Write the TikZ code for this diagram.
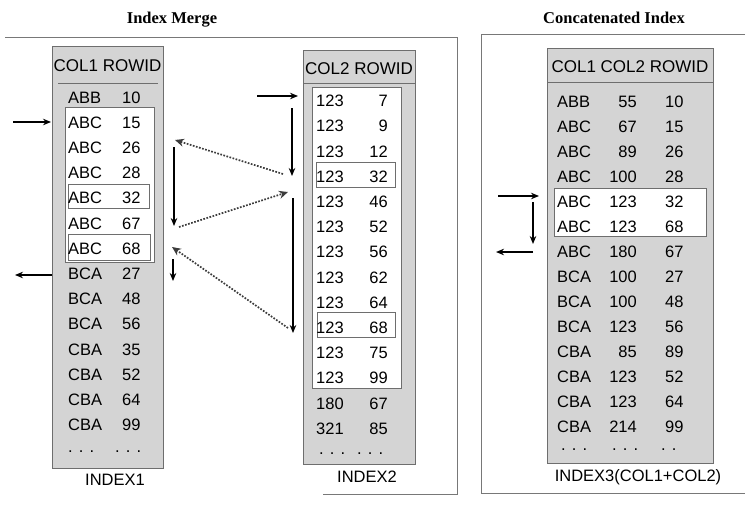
\documentclass[tikz,border=0pt]{standalone}
\usepackage{fontspec}
\setmainfont{Liberation Sans}
\newfontfamily\titlefont{Liberation Serif}
\usetikzlibrary{arrows.meta}
\definecolor{tblgray}{RGB}{212,212,212}
\definecolor{tblborder}{RGB}{110,110,110}
\definecolor{framegray}{RGB}{120,120,120}
\definecolor{dotgray}{RGB}{60,60,60}
\begin{document}
\begin{tikzpicture}[x=1pt,y=-1pt,
  tblbox/.style={draw=tblborder, fill=tblgray, line width=0.9pt, inner sep=0pt},
  whitebox/.style={draw=tblborder, fill=white, line width=0.8pt, inner sep=0pt},
  hilite/.style={draw=tblborder, line width=0.8pt, inner sep=0pt},
  cell/.style={inner sep=0pt, font=\fontsize{16.5}{18}\selectfont},
  headtxt/.style={inner sep=0pt, font=\fontsize{17}{19}\selectfont},
  labeltxt/.style={inner sep=0pt, font=\fontsize{16.5}{18}\selectfont},
  titletxt/.style={inner sep=0pt, font=\titlefont\bfseries\fontsize{16.5}{18}\selectfont},
  dotstxt/.style={inner sep=0pt, font=\fontsize{16.5}{18}\selectfont},
  frameline/.style={draw=framegray, line width=0.8pt},
  sepline/.style={draw=tblborder, line width=0.9pt},
  solidarrow/.style={draw=black, line width=1.5pt, -{Stealth[length=8pt,width=6.5pt]}},
  dotarrow/.style={draw=dotgray, line width=1.7pt, dash pattern=on 1.7pt off 1.5pt, -{Stealth[length=9pt,width=8pt]}}
]
\useasboundingbox (0,0) rectangle (751,508);

% titles
\node[titletxt] (t1) at (172,20) {Index Merge};
\node[titletxt] (t2) at (614,18) {Concatenated Index};

% frames
\draw[frameline] (5,37) -- (457,37) -- (457,494) -- (323,494);
\draw[frameline] (745,34) -- (481,34) -- (481,493) -- (745,493);

% ---------- INDEX1 ----------
\node[tblbox, minimum width=111pt, minimum height=422pt] (i1) at (107.5,257) {};
\node[headtxt] (h1) at (107.5,66) {COL1 ROWID};
\draw[sepline] (58,83) -- (158,83);
\node[whitebox, minimum width=89pt, minimum height=155pt] (w1) at (109.5,184.5) {};
\node[hilite, minimum width=81pt, minimum height=24pt] (w1a) at (108.5,196) {};
\node[hilite, minimum width=82pt, minimum height=26pt] (w1b) at (109,247) {};
\foreach \a/\b [count=\i from 0] in {ABB/10,ABC/15,ABC/26,ABC/28,ABC/32,ABC/67,ABC/68,BCA/27,BCA/48,BCA/56,CBA/35,CBA/52,CBA/64,CBA/99}{
  \node[cell, anchor=west] (ia\i) at (68,97.5+25.2*\i) {\a};
  \node[cell, anchor=west] (ib\i) at (122,97.5+25.2*\i) {\b};
}
\node[dotstxt, anchor=west] (id1) at (68,452) {. . .};
\node[dotstxt, anchor=west] (id2) at (115,452) {. . .};
\node[labeltxt] (l1) at (115,480) {INDEX1};

% ---------- INDEX2 ----------
\node[tblbox, minimum width=112pt, minimum height=414pt] (i2) at (359,257) {};
\node[headtxt] (h2) at (359,69) {COL2 ROWID};
\draw[sepline] (303,83) -- (415,83);
\node[whitebox, minimum width=89pt, minimum height=301pt] (w2) at (356.5,237.5) {};
\node[hilite, minimum width=79pt, minimum height=25pt] (w2a) at (355.5,174.5) {};
\node[hilite, minimum width=78pt, minimum height=25pt] (w2b) at (356,325) {};
\foreach \a/\b [count=\i from 0] in {123/7,123/9,123/12,123/32,123/46,123/52,123/56,123/62,123/64,123/68,123/75,123/99,180/67,321/85}{
  \node[cell, anchor=west] (ja\i) at (316,101+25.2*\i) {\a};
  \node[cell, anchor=east] (jb\i) at (388,101+25.2*\i) {\b};
}
\node[dotstxt, anchor=west] (jd1) at (319,454) {. . .};
\node[dotstxt, anchor=west] (jd2) at (357,454) {. . .};
\node[labeltxt] (l2) at (367,477) {INDEX2};

% ---------- INDEX3 ----------
\node[tblbox, minimum width=166pt, minimum height=415pt] (i3) at (630,255.5) {};
\node[headtxt] (h3) at (630,67) {COL1 COL2 ROWID};
\draw[sepline] (547,82) -- (713,82);
\node[whitebox, minimum width=152pt, minimum height=48pt] (w3) at (630,212) {};
\foreach \a/\b/\c [count=\i from 0] in {ABB/55/10,ABC/67/15,ABC/89/26,ABC/100/28,ABC/123/32,ABC/123/68,ABC/180/67,BCA/100/27,BCA/100/48,BCA/123/56,CBA/85/89,CBA/123/52,CBA/123/64,CBA/214/99}{
  \node[cell, anchor=west] (ka\i) at (557,101.7+25*\i) {\a};
  \node[cell, anchor=east] (kb\i) at (637,101.7+25*\i) {\b};
  \node[cell, anchor=west] (kc\i) at (665,101.7+25*\i) {\c};
}
\node[dotstxt, anchor=west] (kd1) at (561,450) {. . .};
\node[dotstxt, anchor=west] (kd2) at (612,450) {. . .};
\node[dotstxt, anchor=west] (kd3) at (661,450) {. .};
\node[labeltxt] (l3) at (638,477) {INDEX3(COL1+COL2)};

% ---------- arrow end points ----------
\coordinate (a1s) at (13,122);   \coordinate (a1e) at (51,122);
\coordinate (a2s) at (52,275);   \coordinate (a2e) at (15,275);
\coordinate (b1s) at (257,96);   \coordinate (b1e) at (298,96);
\coordinate (b2s) at (292,108);  \coordinate (b2e) at (292,176);
\coordinate (d1s) at (283,174);  \coordinate (d1e) at (175,140);
\coordinate (b3s) at (174,147);  \coordinate (b3e) at (174,226);
\coordinate (d2s) at (179,227);  \coordinate (d2e) at (288,192);
\coordinate (b4s) at (293,198);  \coordinate (b4e) at (293,333);
\coordinate (d3s) at (288,328);  \coordinate (d3e) at (172,247);
\coordinate (b5s) at (173,259);  \coordinate (b5e) at (173,281);
\coordinate (c1s) at (498,196);  \coordinate (c1e) at (539,196);
\coordinate (c2s) at (533,202);  \coordinate (c2e) at (533,244);
\coordinate (c3s) at (533,252);  \coordinate (c3e) at (496,252);

\draw[solidarrow] (a1s) -- (a1e);
\draw[solidarrow] (a2s) -- (a2e);
\draw[solidarrow] (b1s) -- (b1e);
\draw[solidarrow] (b2s) -- (b2e);
\draw[dotarrow] (d1s) -- (d1e);
\draw[solidarrow] (b3s) -- (b3e);
\draw[dotarrow] (d2s) -- (d2e);
\draw[solidarrow] (b4s) -- (b4e);
\draw[dotarrow] (d3s) -- (d3e);
\draw[solidarrow] (b5s) -- (b5e);
\draw[solidarrow] (c1s) -- (c1e);
\draw[solidarrow] (c2s) -- (c2e);
\draw[solidarrow] (c3s) -- (c3e);
\end{tikzpicture}
\end{document}
